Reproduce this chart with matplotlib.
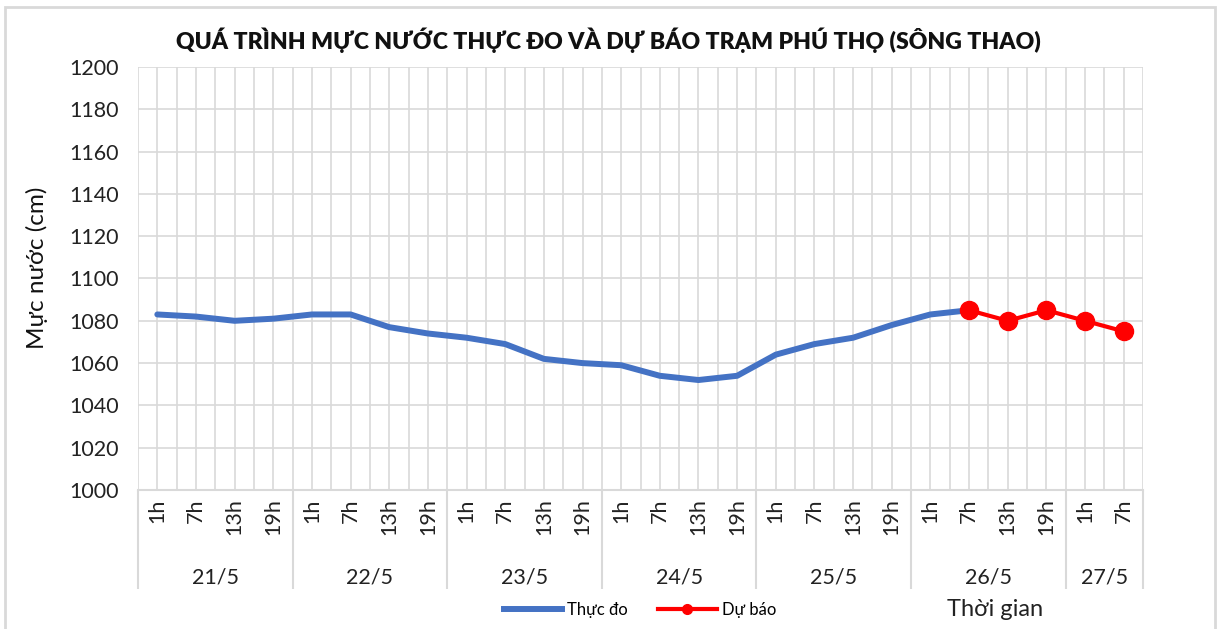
import numpy as np
import matplotlib
matplotlib.use("Agg")
import matplotlib.pyplot as plt
from matplotlib.patches import Rectangle
from matplotlib.lines import Line2D
import matplotlib.transforms as mtransforms

plt.rcParams['font.family'] = ['Lato', 'DejaVu Sans']

# ---- data ----
days = ["21/5", "22/5", "23/5", "24/5", "25/5", "26/5", "27/5"]
hours_per_day = [["1h", "7h", "13h", "19h"]] * 6 + [["1h", "7h"]]
observed = [1083, 1082, 1080, 1081, 1083, 1083, 1077, 1074, 1072, 1069, 1062,
            1060, 1059, 1054, 1052, 1054, 1064, 1069, 1072, 1078, 1083, 1085]
forecast = [1085, 1080, 1085, 1080, 1075]
y_ticks = [1000, 1020, 1040, 1060, 1080, 1100, 1120, 1140, 1160, 1180, 1200]

title = "QUÁ TRÌNH MỰC NƯỚC THỰC ĐO VÀ DỰ BÁO TRẠM PHÚ THỌ (SÔNG THAO)"
ylabel = "Mực nước (cm)"
xlabel = "Thời gian"
obs_label = "Thực đo"
fc_label = "Dự báo"

hour_labels = [h for hs in hours_per_day for h in hs]
n = len(hour_labels)
x = np.arange(n)
x_obs = x[:len(observed)]
x_fc = x[len(observed) - 1:len(observed) - 1 + len(forecast)]

W, H = 1217, 629
fig = plt.figure(figsize=(W / 100, H / 100), dpi=100)
L, R, T, B = 138, 1143, 67, 490
ax = fig.add_axes([L / W, 1 - B / H, (R - L) / W, (B - T) / H])

grid_c = "#d9d9d9"
ax.set_xlim(-0.5, n - 0.5)
ax.set_ylim(1000, 1200)
ax.set_yticks(y_ticks)
ax.tick_params(axis='y', length=0, pad=14, labelsize=15.5, labelcolor="#222222")
ax.grid(axis='y', color=grid_c, linewidth=1.2)
for xv in np.arange(-0.5, n, 0.5):
    ax.axvline(xv, color=grid_c, linewidth=1.2, zorder=0)
for s in ["left", "right", "top"]:
    ax.spines[s].set_visible(False)
ax.spines["bottom"].set_color(grid_c)
ax.spines["bottom"].set_linewidth(1.5)

# x axis: hours as tick labels, day boundaries as long ticks
ax.set_xticks(x)
ax.set_xticklabels(hour_labels, rotation=90, fontsize=15.5, color="#222222")
ax.tick_params(axis='x', which='major', length=0, pad=6)
bounds = [-0.5]
for hs in hours_per_day:
    bounds.append(bounds[-1] + len(hs))
ax.set_xticks(bounds, minor=True)
ax.tick_params(axis='x', which='minor', length=71, width=1.5, color=grid_c)

trans = mtransforms.blended_transform_factory(ax.transData, fig.transFigure)
for i, d in enumerate(days):
    cx = (bounds[i] + bounds[i + 1]) / 2
    ax.text(cx, 1 - 577 / H, d, transform=trans, ha='center', va='center',
            fontsize=15.5, color="#222222")

ax.plot(x_obs, observed, color="#4472C4", linewidth=4.3, solid_capstyle='round',
        solid_joinstyle='round', zorder=3)
ax.plot(x_fc, forecast, color="#FF0000", linewidth=3, marker='o', markersize=13,
        zorder=4)

fig.text(608 / W, 1 - 40 / H, title, ha='center', va='center', fontsize=16.6,
         fontweight='heavy', color="#111111")
fig.text(37 / W, 1 - 268 / H, ylabel, rotation=90, ha='center', va='center',
         fontsize=17.5, color="#111111")
fig.text(995 / W, 1 - 610 / H, xlabel, ha='center', va='center', fontsize=17,
         color="#222222")

# legend
handles = [Line2D([], [], color="#4472C4", linewidth=4.3),
           Line2D([], [], color="#FF0000", linewidth=3, marker='o', markersize=7)]
fig.legend(handles, [obs_label, fc_label], loc='center', bbox_to_anchor=(640 / W, 1 - 610 / H),
           ncol=2, frameon=False, fontsize=12, handlelength=3.5, handletextpad=0.3,
           columnspacing=1.8)

fig.add_artist(Rectangle((5 / W, -0.05), 1210 / W, 1.05 - 7 / H, transform=fig.transFigure,
                         fill=False, edgecolor=grid_c, linewidth=2))

fig.savefig("out.png", dpi=100, facecolor="white")
